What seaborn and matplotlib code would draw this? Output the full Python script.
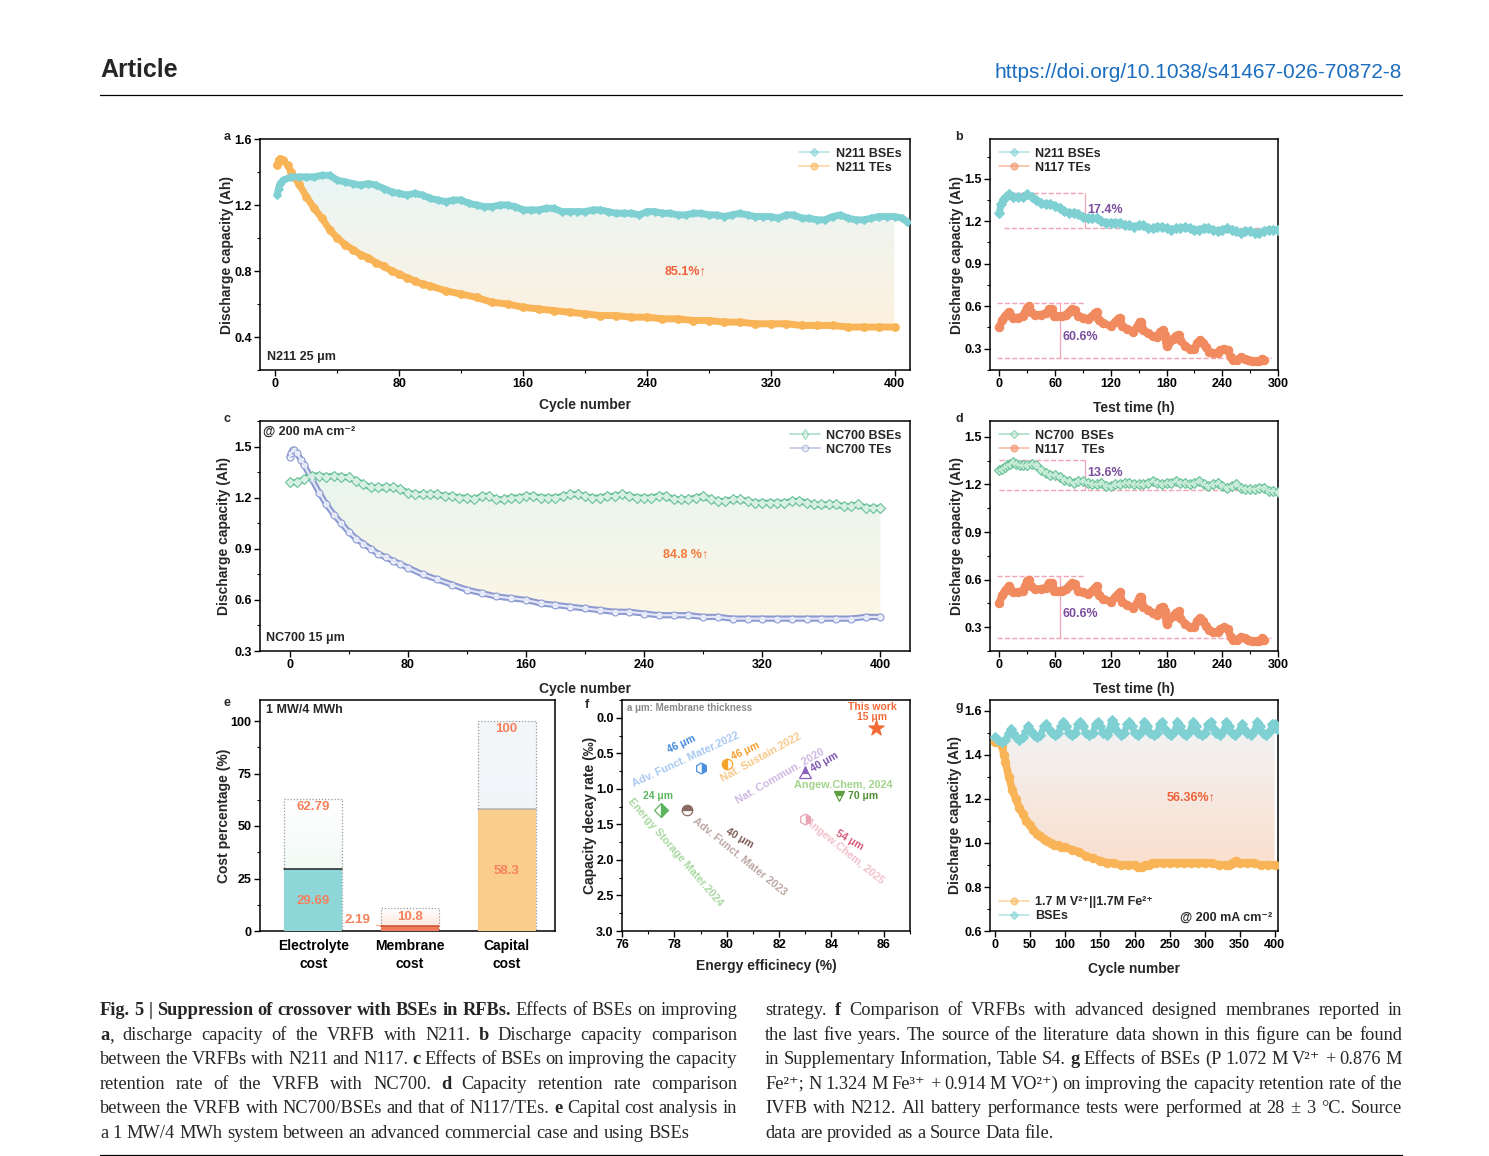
import numpy as np
import matplotlib
matplotlib.use('Agg')
import matplotlib.pyplot as plt
import seaborn as sns
from matplotlib.colors import LinearSegmentedColormap
from matplotlib.patches import Polygon
from matplotlib.lines import Line2D
from matplotlib.ticker import MultipleLocator

W, H = 1489, 1156

# ---------------- data ----------------
# a: N211, discharge capacity vs cycle
a_bse_cycle = [1, 2, 3] + list(range(5, 410, 5)) + [408]
a_bse_cap = [1.26, 1.30, 1.33,
             1.35, 1.37, 1.37, 1.37, 1.37, 1.38, 1.38, 1.35, 1.34, 1.33,
             1.32, 1.33, 1.32, 1.30, 1.28, 1.27, 1.26, 1.27, 1.26, 1.24,
             1.23, 1.22, 1.23, 1.23, 1.21, 1.20, 1.19, 1.19, 1.20, 1.20,
             1.19, 1.17, 1.17, 1.17, 1.18, 1.18, 1.16, 1.16, 1.16, 1.16,
             1.17, 1.17, 1.16, 1.15, 1.15, 1.15, 1.14, 1.16, 1.16, 1.15,
             1.15, 1.14, 1.14, 1.15, 1.15, 1.14, 1.14, 1.13, 1.14, 1.15,
             1.14, 1.13, 1.13, 1.13, 1.12, 1.14, 1.14, 1.12, 1.12, 1.11,
             1.11, 1.13, 1.14, 1.12, 1.11, 1.11, 1.12, 1.13, 1.13, 1.13,
             1.12, 1.10]
a_te_cycle = [1, 2, 3, 5, 8, 10, 15, 20, 25, 30, 35, 40, 45, 50, 55, 60, 65,
              70, 75, 80, 85, 90, 95, 100, 110, 120, 130, 140, 150, 160, 170,
              180, 190, 200, 210, 220, 230, 240, 250, 260, 270, 280, 290, 300,
              310, 320, 330, 340, 350, 360, 370, 380, 390, 400]
a_te_cap = [1.44, 1.47, 1.48, 1.47, 1.44, 1.40, 1.33, 1.25, 1.18, 1.12, 1.05,
            1.00, 0.96, 0.93, 0.90, 0.88, 0.85, 0.83, 0.80, 0.78, 0.76, 0.74,
            0.72, 0.71, 0.68, 0.66, 0.64, 0.61, 0.60, 0.58, 0.57, 0.56, 0.55,
            0.54, 0.53, 0.53, 0.52, 0.52, 0.51, 0.51, 0.50, 0.50, 0.49, 0.49,
            0.48, 0.48, 0.48, 0.47, 0.47, 0.47, 0.46, 0.46, 0.46, 0.46]

# b / d: capacity vs test time
b_bse_time = [0, 2] + list(range(5, 305, 5))
b_bse_cap = [1.26, 1.32,
             1.36, 1.39, 1.37, 1.37, 1.37, 1.39, 1.37, 1.35, 1.33, 1.32,
             1.32, 1.31, 1.29, 1.27, 1.26, 1.26, 1.25, 1.23, 1.22, 1.22,
             1.22, 1.20, 1.19, 1.19, 1.19, 1.19, 1.17, 1.17, 1.16, 1.17,
             1.17, 1.15, 1.15, 1.16, 1.16, 1.15, 1.14, 1.15, 1.15, 1.16,
             1.15, 1.14, 1.14, 1.15, 1.15, 1.14, 1.13, 1.14, 1.15, 1.14,
             1.13, 1.12, 1.13, 1.13, 1.12, 1.12, 1.13, 1.14, 1.14, 1.14]
n117_time = [0, 3, 6, 10, 12, 15, 20, 25, 28, 30, 32, 34, 38, 45, 50, 54, 57,
             59, 62, 67, 72, 75, 78, 81, 85, 90, 95, 100, 103, 105, 107, 112,
             120, 125, 128, 130, 132, 138, 144, 148, 151, 153, 155, 160, 165,
             170, 173, 176, 178, 180, 183, 187, 190, 193, 195, 200, 205, 210,
             213, 216, 219, 222, 226, 230, 235, 238, 242, 246, 249, 252, 256,
             260, 264, 268, 272, 276, 280, 283, 285]
n117_cap = [0.45, 0.50, 0.53, 0.56, 0.54, 0.52, 0.52, 0.53, 0.56, 0.59, 0.60,
            0.56, 0.54, 0.54, 0.55, 0.58, 0.58, 0.53, 0.53, 0.53, 0.54, 0.56,
            0.58, 0.57, 0.53, 0.52, 0.51, 0.53, 0.55, 0.56, 0.50, 0.48, 0.46,
            0.49, 0.51, 0.52, 0.46, 0.44, 0.42, 0.45, 0.49, 0.49, 0.43, 0.41,
            0.39, 0.38, 0.42, 0.43, 0.40, 0.32, 0.35, 0.37, 0.39, 0.40, 0.36,
            0.32, 0.30, 0.30, 0.34, 0.36, 0.34, 0.31, 0.28, 0.27, 0.27, 0.29,
            0.30, 0.29, 0.24, 0.22, 0.22, 0.24, 0.23, 0.22, 0.21, 0.21, 0.21,
            0.23, 0.22]
d_bse_time = [0, 3, 6, 8, 12, 15, 18, 22, 26, 30, 35, 40, 45, 50, 55, 60, 65,
              70, 75, 80, 85, 90, 95, 100, 105, 110, 115, 120, 125, 130, 135,
              140, 145, 150, 155, 160, 165, 170, 175, 180, 185, 190, 195, 200,
              205, 210, 215, 220, 225, 230, 235, 240, 245, 250, 255, 260, 265,
              270, 275, 280, 285, 290, 295, 300]
d_bse_cap = [1.29, 1.30, 1.31, 1.32, 1.33, 1.34, 1.33, 1.32, 1.32, 1.32, 1.33,
             1.32, 1.29, 1.27, 1.26, 1.26, 1.25, 1.23, 1.22, 1.21, 1.22, 1.22,
             1.21, 1.20, 1.20, 1.21, 1.19, 1.19, 1.20, 1.20, 1.21, 1.21, 1.20,
             1.20, 1.20, 1.21, 1.22, 1.21, 1.20, 1.21, 1.21, 1.22, 1.21, 1.21,
             1.20, 1.21, 1.22, 1.20, 1.19, 1.20, 1.21, 1.19, 1.18, 1.19, 1.20,
             1.18, 1.17, 1.17, 1.17, 1.18, 1.18, 1.16, 1.16, 1.15]
b_guides = [1.40, 1.155]     # max / final of N211 BSEs
d_guides = [1.355, 1.165]    # max / final of NC700 BSEs
n117_guides = [0.625, 0.235]
b_drop = ['17.4%', '60.6%']
d_drop = ['13.6%', '60.6%']

# c: NC700
c_bse_cycle = list(range(0, 405, 5))
c_bse_cap = [1.29, 1.29, 1.31, 1.33, 1.33, 1.32, 1.33, 1.32, 1.32, 1.30, 1.28,
             1.26, 1.26, 1.26, 1.26, 1.25, 1.23, 1.22, 1.22, 1.22, 1.22, 1.21,
             1.21, 1.20, 1.20, 1.19, 1.21, 1.21, 1.19, 1.19, 1.20, 1.20, 1.21,
             1.21, 1.20, 1.20, 1.20, 1.21, 1.22, 1.22, 1.21, 1.20, 1.20, 1.21,
             1.21, 1.22, 1.21, 1.20, 1.20, 1.20, 1.21, 1.21, 1.19, 1.19, 1.19,
             1.20, 1.21, 1.19, 1.18, 1.18, 1.19, 1.19, 1.18, 1.17, 1.17, 1.17,
             1.17, 1.17, 1.18, 1.18, 1.17, 1.16, 1.16, 1.16, 1.16, 1.15, 1.15,
             1.16, 1.14, 1.14, 1.14]
c_te_cycle = [0, 1, 2, 3, 5, 8, 10, 15, 20, 25, 30, 35, 40, 45, 50, 55, 60, 65,
              70, 75, 80, 90, 100, 110, 120, 130, 140, 150, 160, 170, 180, 190,
              200, 210, 220, 230, 240, 250, 260, 270, 280, 290, 300, 310, 320,
              330, 340, 350, 360, 370, 380, 390, 400]
c_te_cap = [1.44, 1.46, 1.48, 1.48, 1.46, 1.42, 1.39, 1.31, 1.23, 1.16, 1.10,
            1.05, 1.00, 0.96, 0.93, 0.90, 0.87, 0.85, 0.83, 0.81, 0.79, 0.75,
            0.72, 0.69, 0.66, 0.64, 0.62, 0.61, 0.60, 0.58, 0.57, 0.56, 0.55,
            0.54, 0.53, 0.53, 0.52, 0.51, 0.51, 0.51, 0.50, 0.50, 0.49, 0.49,
            0.49, 0.49, 0.49, 0.49, 0.49, 0.49, 0.49, 0.50, 0.50]

# e: cost analysis, 1 MW/4 MWh
cost_cats = ['Electrolyte\ncost', 'Membrane\ncost', 'Capital\ncost']
cost_commercial = [62.79, 10.8, 100]
cost_bse = [29.69, 2.19, 58.3]

# f: literature comparison
lit_names = ['This work', 'Adv. Funct. Mater.2022', 'Nat. Sustain.2022',
             'Nat. Commun. 2020', 'Angew.Chem, 2024', 'Energy Storage Mater.2024',
             'Adv. Funct. Mater 2023', 'Angew.Chem, 2025']
lit_ee = [85.7, 79.0, 80.0, 83.0, 84.3, 77.5, 78.5, 83.0]
lit_decay = [0.15, 0.70, 0.65, 0.76, 1.10, 1.30, 1.30, 1.42]
lit_thick = ['15 μm', '46 μm', '46 μm', '40 μm', '70 μm', '24 μm', '40 μm', '54 μm']

# g: IVFB
g_te_cycle = [0, 5, 10, 13, 15, 20, 25, 30, 35, 40, 45, 50, 55, 60, 65, 70, 75,
              80, 85, 90, 95, 100, 110, 120, 130, 140, 150, 160, 170, 180, 190,
              200, 205, 210, 215, 220, 225, 230, 240, 250, 260, 270, 280, 290,
              300, 310, 320, 330, 335, 340, 345, 350, 360, 370, 380, 390, 400]
g_te_cap = [1.46, 1.46, 1.44, 1.40, 1.37, 1.30, 1.24, 1.20, 1.16, 1.13, 1.10,
            1.08, 1.06, 1.04, 1.03, 1.02, 1.01, 1.00, 0.99, 0.99, 0.98, 0.98,
            0.97, 0.96, 0.94, 0.93, 0.92, 0.91, 0.91, 0.90, 0.90, 0.90, 0.89,
            0.89, 0.90, 0.90, 0.91, 0.91, 0.91, 0.91, 0.91, 0.91, 0.91, 0.91,
            0.91, 0.91, 0.90, 0.90, 0.90, 0.91, 0.92, 0.91, 0.91, 0.91, 0.90,
            0.90, 0.90]
g_bse_cycle = [0, 5, 10, 15, 20, 23, 26, 30, 35, 40, 45, 48, 52, 56, 60, 65,
               70, 73, 77, 81, 86, 90, 95, 98, 102, 106, 110, 115, 119, 122,
               126, 130, 135, 140, 144, 147, 151, 155, 160, 164, 167, 171, 175,
               180, 185, 189, 192, 196, 200, 205, 210, 214, 218, 222, 227, 232,
               236, 239, 243, 247, 252, 257, 261, 265, 269, 274, 279, 283, 287,
               291, 296, 301, 305, 309, 313, 317, 322, 327, 331, 335, 339, 344,
               349, 353, 357, 361, 366, 371, 375, 379, 383, 388, 393, 397, 400,
               403]
g_bse_cap = [1.48, 1.47, 1.46, 1.47, 1.50, 1.52, 1.50, 1.48, 1.47, 1.48, 1.51,
             1.53, 1.51, 1.49, 1.48, 1.49, 1.53, 1.54, 1.52, 1.50, 1.49, 1.50,
             1.53, 1.55, 1.53, 1.50, 1.49, 1.50, 1.54, 1.55, 1.53, 1.50, 1.49,
             1.50, 1.54, 1.55, 1.53, 1.50, 1.49, 1.52, 1.56, 1.54, 1.51, 1.49,
             1.50, 1.54, 1.55, 1.53, 1.50, 1.49, 1.51, 1.55, 1.53, 1.50, 1.49,
             1.50, 1.54, 1.55, 1.52, 1.50, 1.49, 1.51, 1.55, 1.53, 1.50, 1.49,
             1.51, 1.55, 1.53, 1.50, 1.49, 1.50, 1.54, 1.55, 1.52, 1.50, 1.49,
             1.51, 1.55, 1.53, 1.50, 1.49, 1.51, 1.54, 1.52, 1.50, 1.49, 1.51,
             1.55, 1.53, 1.50, 1.49, 1.51, 1.54, 1.54, 1.52]

caption_left = [
    [('Fig. 5 | Suppression of crossover with BSEs in RFBs.', True), (' Effects of BSEs on improving', False)],
    [('a', True), (', discharge capacity of the VRFB with N211. ', False), ('b', True), (' Discharge capacity comparison', False)],
    [('between the VRFBs with N211 and N117. ', False), ('c', True), (' Effects of BSEs on improving the capacity', False)],
    [('retention rate of the VRFB with NC700. ', False), ('d', True), (' Capacity retention rate comparison', False)],
    [('between the VRFB with NC700/BSEs and that of N117/TEs. ', False), ('e', True), (' Capital cost analysis in', False)],
    [('a 1 MW/4 MWh system between an advanced commercial case and using BSEs', False)],
]
caption_right = [
    [('strategy. ', False), ('f', True), (' Comparison of VRFBs with advanced designed membranes reported in', False)],
    [('the last five years. The source of the literature data shown in this figure can be found', False)],
    [('in Supplementary Information, Table S4. ', False), ('g', True), (' Effects of BSEs (P 1.072 M V²⁺ + 0.876 M', False)],
    [('Fe²⁺; N 1.324 M Fe³⁺ + 0.914 M VO²⁺) on improving the capacity retention rate of the', False)],
    [('IVFB with N212. All battery performance tests were performed at 28 ± 3 °C. Source', False)],
    [('data are provided as a Source Data file.', False)],
]

# ---------------- style ----------------
sns.set_theme(style='ticks')
plt.rcParams['font.family'] = ['Liberation Sans', 'DejaVu Sans']
plt.rcParams['font.weight'] = 'bold'
plt.rcParams['axes.labelweight'] = 'bold'

TEAL = '#7fd0d3'
ORANGE_A = '#f9b457'
N117_COL = '#f28a5f'
GREEN = '#67c197'
BLUE = '#8c9ad0'
RED_TXT = '#f0603a'
PURPLE = '#7c4e9e'
PINK = '#f3a3b6'
SERIF = ['Liberation Serif', 'DejaVu Serif']

fig = plt.figure(figsize=(W / 100, H / 100), dpi=100)
bg = fig.add_axes([0, 0, 1, 1])
bg.set_xlim(0, W)
bg.set_ylim(H, 0)
bg.axis('off')


def px_axes(l, t, r, b):
    return fig.add_axes([l / W, 1 - b / H, (r - l) / W, (b - t) / H])


def style_axes(ax, xmaj=None, xmin=None, ymaj=None, ymin=None):
    for s in ax.spines.values():
        s.set_visible(True)
        s.set_linewidth(1.1)
        s.set_color('black')
    if xmaj:
        ax.xaxis.set_major_locator(MultipleLocator(xmaj))
    if xmin:
        ax.xaxis.set_minor_locator(MultipleLocator(xmin))
    if ymaj:
        ax.yaxis.set_major_locator(MultipleLocator(ymaj))
    if ymin:
        ax.yaxis.set_minor_locator(MultipleLocator(ymin))
    ax.tick_params(which='major', direction='out', length=4, width=1.0,
                   labelsize=9, colors='black', pad=2)
    ax.tick_params(which='minor', direction='out', length=2.2, width=0.8,
                   colors='black')
    ax.grid(False)


def labels(ax, xlabel, ylabel, xl_y, yl_x, size=10):
    ax.set_xlabel(xlabel, fontsize=size, fontweight='bold')
    ax.set_ylabel(ylabel, fontsize=size, fontweight='bold')
    ax.xaxis.set_label_coords(0.5, xl_y)
    ax.yaxis.set_label_coords(yl_x, 0.5)


def gradient_fill(ax, xt, yt, xb, yb, c_top, c_bot):
    xt, yt, xb, yb = map(np.asarray, (xt, yt, xb, yb))
    verts = np.column_stack([np.r_[xt, xb[::-1]], np.r_[yt, yb[::-1]]])
    poly = Polygon(verts, closed=True, facecolor='none', edgecolor='none')
    ax.add_patch(poly)
    cmap = LinearSegmentedColormap.from_list('grad', [c_bot, c_top])
    im = ax.imshow(np.linspace(0, 1, 256).reshape(-1, 1), cmap=cmap,
                   aspect='auto', origin='lower', zorder=0.5,
                   extent=[verts[:, 0].min(), verts[:, 0].max(),
                           verts[:, 1].min(), verts[:, 1].max()])
    im.set_clip_path(poly)


def series(ax, x, y, color, marker, ms=5.5, face=None, lw=4.5, z=3, inner=None):
    sns.lineplot(x=x, y=y, ax=ax, color=color, linewidth=lw, marker=marker,
                 markersize=ms, markeredgecolor=color,
                 markerfacecolor=face if face else color,
                 markeredgewidth=0.8, zorder=z, legend=False)
    if inner:
        # lighter core to mimic the dense hollow markers
        sns.lineplot(x=x, y=y, ax=ax, color=inner, linewidth=lw * 0.35,
                     zorder=z + 0.1, legend=False)


def handle(color, marker, label, face=None, ms=5):
    return Line2D([0], [0], color=color, lw=1.2, marker=marker,
                  markersize=ms, markerfacecolor=face if face else color,
                  markeredgecolor=color, label=label)


def legend(ax, handles, loc, anchor=None):
    lg = ax.legend(handles=handles, loc=loc, frameon=False, fontsize=9,
                   handlelength=2.4, handletextpad=0.5, labelspacing=0.15,
                   borderaxespad=0.3, bbox_to_anchor=anchor)
    for line in lg.get_lines():
        line.set_alpha(0.55)
    return lg


def panel_label(x, y, s):
    bg.text(x, y, s, fontsize=9, fontweight='bold', ha='left', va='center')


# ---------------- header ----------------
bg.text(100, 70, 'Article', fontsize=18, fontweight='bold', va='center', ha='left')
bg.text(1402, 72, 'https://doi.org/10.1038/s41467-026-70872-8', fontsize=15,
        fontweight='normal', color='#1b6dbf', va='center', ha='right')
bg.plot([100, 1402], [95, 95], color='black', lw=0.9)
bg.plot([100, 1402], [1155, 1155], color='black', lw=0.9)

# ---------------- panel a ----------------
ax = px_axes(260, 139, 910, 370)
gradient_fill(ax, [c for c in a_bse_cycle if 12 <= c <= 400],
              [v for c, v in zip(a_bse_cycle, a_bse_cap) if 12 <= c <= 400],
              [c for c in a_te_cycle if 12 <= c <= 400],
              [v for c, v in zip(a_te_cycle, a_te_cap) if 12 <= c <= 400],
              '#e9f6f6', '#fdf1df')
series(ax, a_te_cycle, a_te_cap, ORANGE_A, 'o', ms=5.5, lw=5)
series(ax, a_bse_cycle, a_bse_cap, TEAL, 'D', ms=4.5, lw=5)
ax.set_xlim(-10, 410)
ax.set_ylim(0.2, 1.6)
style_axes(ax, 80, 40, 0.4, 0.2)
labels(ax, 'Cycle number', 'Discharge capacity (Ah)', -0.121, -0.04)
legend(ax, [handle(TEAL, 'D', 'N211 BSEs', ms=4.5), handle(ORANGE_A, 'o', 'N211 TEs')], 'upper right')
ax.text(265, 0.80, '85.1%↑', color=RED_TXT, fontsize=9, ha='center', va='center')
ax.text(0.011, 0.056, 'N211 25 μm', transform=ax.transAxes, fontsize=9, va='center')
panel_label(224, 137, 'a')

# ---------------- panel b ----------------
ax = px_axes(990, 139, 1278, 370)
series(ax, n117_time, n117_cap, N117_COL, 'o', ms=6, lw=5.5)
series(ax, b_bse_time, b_bse_cap, TEAL, 'D', ms=5, lw=5)
ax.hlines(b_guides[0], 5, 92, colors=PINK, linestyles='--', lw=1)
ax.hlines(b_guides[1], 5, 300, colors=PINK, linestyles='--', lw=1)
ax.vlines(92, b_guides[1], b_guides[0], colors=PINK, lw=0.9)
ax.text(95, np.mean(b_guides), b_drop[0], color=PURPLE, fontsize=9, va='center')
ax.hlines(n117_guides[0], -2, 92, colors=PINK, linestyles='--', lw=1)
ax.hlines(n117_guides[1], -2, 292, colors=PINK, linestyles='--', lw=1)
ax.vlines(65, n117_guides[1], n117_guides[0], colors=PINK, lw=0.9)
ax.text(68, 0.385, b_drop[1], color=PURPLE, fontsize=9, va='center')
ax.set_xlim(-10, 300)
ax.set_ylim(0.15, 1.78)
style_axes(ax, 60, 30, 0.3, 0.15)
labels(ax, 'Test time (h)', 'Discharge capacity (Ah)', -0.134, -0.09)
legend(ax, [handle(TEAL, 'D', 'N211 BSEs', ms=4.5), handle(N117_COL, 'o', 'N117 TEs')], 'upper left')
panel_label(955, 137, 'b')

# ---------------- panel c ----------------
ax = px_axes(260, 421, 910, 651)
gradient_fill(ax, [c for c in c_bse_cycle if c >= 15],
              [v for c, v in zip(c_bse_cycle, c_bse_cap) if c >= 15],
              [c for c in c_te_cycle if c >= 15],
              [v for c, v in zip(c_te_cycle, c_te_cap) if c >= 15],
              '#e8f5ee', '#fdf6e6')
series(ax, c_te_cycle, c_te_cap, BLUE, 'o', ms=5, face='#eef0fa', lw=4.5, inner='#e3e7f7')
series(ax, c_bse_cycle, c_bse_cap, GREEN, 'D', ms=5, face='#dff2e8', lw=4.5, inner='#d4efe1')
ax.set_xlim(-20, 420)
ax.set_ylim(0.3, 1.65)
style_axes(ax, 80, 40, 0.3, 0.15)
labels(ax, 'Cycle number', 'Discharge capacity (Ah)', -0.135, -0.045)
legend(ax, [handle(GREEN, 'd', 'NC700 BSEs', face='#dff2e8'),
            handle(BLUE, 'o', 'NC700 TEs', face='#eef0fa', ms=4.5)], 'upper right')
ax.text(268, 0.87, '84.8 %↑', color='#f57a3d', fontsize=9, ha='center', va='center')
ax.text(0.01, 0.057, 'NC700 15 μm', transform=ax.transAxes, fontsize=9, va='center')
ax.text(0.005, 0.955, '@ 200 mA cm⁻²', transform=ax.transAxes, fontsize=9, va='center')
panel_label(224, 419, 'c')

# ---------------- panel d ----------------
ax = px_axes(990, 421, 1278, 651)
series(ax, n117_time, n117_cap, N117_COL, 'o', ms=6, lw=5.5)
series(ax, d_bse_time, d_bse_cap, GREEN, 'D', ms=5, face='#c9ecd9', lw=4.5, inner='#c6ebd7')
ax.hlines(d_guides[0], 0, 92, colors=PINK, linestyles='--', lw=1)
ax.hlines(d_guides[1], 0, 300, colors=PINK, linestyles='--', lw=1)
ax.vlines(92, d_guides[1], d_guides[0], colors=PINK, lw=0.9)
ax.text(95, 1.27, d_drop[0], color=PURPLE, fontsize=9, va='center')
ax.hlines(n117_guides[0], -2, 92, colors=PINK, linestyles='--', lw=1)
ax.hlines(n117_guides[1], -2, 292, colors=PINK, linestyles='--', lw=1)
ax.vlines(65, n117_guides[1], n117_guides[0], colors=PINK, lw=0.9)
ax.text(68, 0.385, d_drop[1], color=PURPLE, fontsize=9, va='center')
ax.set_xlim(-10, 300)
ax.set_ylim(0.15, 1.6)
style_axes(ax, 60, 30, 0.3, 0.15)
labels(ax, 'Test time (h)', 'Discharge capacity (Ah)', -0.134, -0.09)
legend(ax, [handle(GREEN, 'D', 'NC700  BSEs', face='#c9ecd9', ms=4.5),
            handle(N117_COL, 'o', 'N117     TEs')], 'upper left')
panel_label(955, 419, 'd')

# ---------------- panel e ----------------
ax = px_axes(260, 700, 555, 931)
box_tops = ['#ffffff', '#ffffff', '#f4f7fa']
box_bots = ['#e6f5ec', '#fde1d3', '#eef3f7']
bar_cols = ['#8fd6d8', '#f07b5a', '#fbcd8c']
bar_edges = ['#222222', '#c9502f', '#b0b0b0']
sns.barplot(x=cost_cats, y=cost_commercial, ax=ax, color='white', width=0.6)
n0 = len(ax.patches)
for i, p in enumerate(ax.patches[:n0]):
    p.set_facecolor('none')
    p.set_edgecolor('#9a9a9a')
    p.set_linestyle((0, (1, 1.5)))
    p.set_linewidth(0.9)
    p.set_zorder(2)
    x0, w, h = p.get_x(), p.get_width(), p.get_height()
    cmap = LinearSegmentedColormap.from_list('bx', [box_bots[i], box_tops[i]])
    im = ax.imshow(np.linspace(0, 1, 64).reshape(-1, 1), cmap=cmap, origin='lower',
                   aspect='auto', extent=[x0, x0 + w, 0, h], zorder=1)
    im.set_clip_path(p)
sns.barplot(x=cost_cats, y=cost_bse, hue=cost_cats, palette=bar_cols, ax=ax,
            width=0.6, legend=False, saturation=1)
for i, p in enumerate(ax.patches[n0:]):
    p.set_edgecolor('none')
    p.set_zorder(3)
    ax.plot([p.get_x(), p.get_x() + p.get_width()], [p.get_height()] * 2,
            color=bar_edges[i], lw=1.1, zorder=4)
val_col = '#f5805c'
ax.text(0, 59, f'{cost_commercial[0]:.2f}', color=val_col, ha='center', va='center', fontsize=9.5)
ax.text(0, 14.3, f'{cost_bse[0]:.2f}', color=val_col, ha='center', va='center', fontsize=9.5)
ax.text(1, 6.8, f'{cost_commercial[1]:g}', color=val_col, ha='center', va='center', fontsize=9.5)
ax.annotate(f'{cost_bse[1]:g}', xy=(0.78, 1.2), xytext=(0.46, 5.4), color=val_col,
            ha='center', va='center', fontsize=9.5,
            arrowprops=dict(arrowstyle='-|>', color=val_col, lw=0.6, mutation_scale=5))
ax.text(2, 96, f'{cost_commercial[2]:g}', color=val_col, ha='center', va='center', fontsize=9.5)
ax.text(2, 28.6, f'{cost_bse[2]:g}', color=val_col, ha='center', va='center', fontsize=9.5)
ax.text(0.02, 0.955, '1 MW/4 MWh', transform=ax.transAxes, fontsize=9, va='center')
ax.set_xlim(-0.55, 2.5)
ax.set_ylim(0, 110)
style_axes(ax, None, None, 25, 12.5)
ax.tick_params(axis='x', which='both', length=0, labelsize=10, pad=6)
for lab in ax.get_xticklabels():
    lab.set_linespacing(1.35)
ax.set_xlabel('')
ax.set_ylabel('Cost percentage (%)', fontsize=10, fontweight='bold')
ax.yaxis.set_label_coords(-0.098, 0.5)
panel_label(224, 703, 'e')

# ---------------- panel f ----------------
ax = px_axes(622, 700, 910, 931)
sns.scatterplot(x=lit_ee[:1], y=lit_decay[:1], ax=ax, marker='*', s=130,
                color='#f26a36', edgecolor='#f26a36', zorder=4, legend=False)
mk = ['*', 'h', 'o', '^', 'v', 'D', 'o', 'h']
mk_col = ['#f26a36', '#4a8fe0', '#f7a42c', '#8a63b8', '#5e9e3e', '#5db35e', '#8a6a62', '#e9a3b4']
mk_fill = [None, 'right', 'left', 'top', 'top', 'right', 'top', 'right']
mk_size = [0, 8, 7.5, 8, 7.5, 7, 7.5, 8]
for i in range(1, len(lit_names)):
    ax.plot(lit_ee[i], lit_decay[i], linestyle='', marker=mk[i], markersize=mk_size[i],
            color=mk_col[i], markerfacecoloralt='white', fillstyle=mk_fill[i],
            markeredgecolor=mk_col[i], markeredgewidth=0.9, zorder=4)
name_col = [None, '#a9c9f2', '#f9c98a', '#cdb8e3', '#a3d48b', '#a8d8a0', '#bca8a3', '#f2bfcb']
thick_col = [None, '#3f86e0', '#f59d2a', '#7b52ad', '#4f8f32', '#5bb55b', '#7a5a52', '#d65a78']
name_pos = [None, (78.45, 0.59, 25), (81.3, 0.56, 29), (82.05, 0.82, 30), (84.45, 0.94, 0),
            (78.03, 1.89, -49), (80.5, 1.95, -39), (84.5, 1.88, -39)]
thick_pos = [None, (78.26, 0.375, 25), (80.73, 0.47, 25), (83.75, 0.62, 30), (85.2, 1.10, 0),
             (77.37, 1.10, 0), (80.5, 1.69, -30), (84.7, 1.72, -30)]
for i in range(1, len(lit_names)):
    x, y, r = name_pos[i]
    ax.text(x, y, lit_names[i], color=name_col[i], fontsize=7.8, rotation=r,
            rotation_mode='anchor', ha='center', va='center')
    x, y, r = thick_pos[i]
    ax.text(x, y, lit_thick[i], color=thick_col[i], fontsize=7.5, rotation=r,
            rotation_mode='anchor', ha='center', va='center')
ax.text(85.55, -0.08, f'{lit_names[0]}\n{lit_thick[0]}', color='#f26a36', fontsize=7.5,
        ha='center', va='center', linespacing=0.95)
ax.text(0.017, 0.967, 'a μm: Membrane thickness', transform=ax.transAxes, color='#8a8a8a',
        fontsize=7, va='center')
ax.set_xlim(76, 87)
ax.set_ylim(3.0, -0.25)
style_axes(ax, 2, 1, 0.5, 0.25)
labels(ax, 'Energy efficinecy (%)', 'Capacity decay rate (‰)', -0.121, -0.087)
panel_label(585, 705, 'f')

# ---------------- panel g ----------------
ax = px_axes(990, 700, 1278, 931)
gradient_fill(ax, g_bse_cycle[:-1], g_bse_cap[:-1], g_te_cycle, g_te_cap, '#f1f4f6', '#fadfcd')
series(ax, g_te_cycle, g_te_cap, ORANGE_A, 'o', ms=6, lw=5.5)
series(ax, g_bse_cycle, g_bse_cap, TEAL, 'D', ms=5, lw=4.5)
ax.set_xlim(-7, 405)
ax.set_ylim(0.6, 1.65)
style_axes(ax, 50, None, 0.2, 0.1)
labels(ax, 'Cycle number', 'Discharge capacity (Ah)', -0.134, -0.097)
legend(ax, [handle(ORANGE_A, 'o', '1.7 M V²⁺||1.7M Fe²⁺'), handle(TEAL, 'D', 'BSEs', ms=4.5)],
       'lower left')
ax.text(281, 1.21, '56.36%↑', color=RED_TXT, fontsize=9, ha='center', va='center')
ax.text(0.98, 0.058, '@ 200 mA cm⁻²', transform=ax.transAxes, fontsize=9, ha='right', va='center')
panel_label(955, 707, 'g')

# ---------------- caption (justified columns) ----------------
renderer = fig.canvas.get_renderer()
CAP_SIZE = 13.2
COL_W = 637


def caption_words(segs):
    words, cur = [], []
    for txt, bold in segs:
        parts = txt.split(' ')
        for j, part in enumerate(parts):
            if j > 0 and cur:
                words.append(cur)
                cur = []
            if part:
                cur.append((part, bold))
    if cur:
        words.append(cur)
    return words


def caption_line(x, y, segs, justify):
    words = caption_words(segs)
    placed, total = [], 0.0
    for word in words:
        pieces = []
        for piece, bold in word:
            t = bg.text(0, y, piece, family=SERIF, fontsize=CAP_SIZE, va='baseline',
                        ha='left', fontweight='bold' if bold else 'normal')
            wpx = t.get_window_extent(renderer).width
            pieces.append((t, wpx))
            total += wpx
        placed.append(pieces)
    if justify and len(placed) > 1:
        gap = (COL_W - total) / (len(placed) - 1)
    else:
        gap = CAP_SIZE * 0.25 / 0.72
    pos = x
    for pieces in placed:
        for t, wpx in pieces:
            t.set_x(pos)
            pos += wpx
        pos += gap


for k, segs in enumerate(caption_left):
    caption_line(100, 1015 + 24.6 * k, segs, justify=k < len(caption_left) - 1)
for k, segs in enumerate(caption_right):
    caption_line(765, 1015 + 24.6 * k, segs, justify=k < len(caption_right) - 1)

fig.savefig('out.png', dpi=100)
